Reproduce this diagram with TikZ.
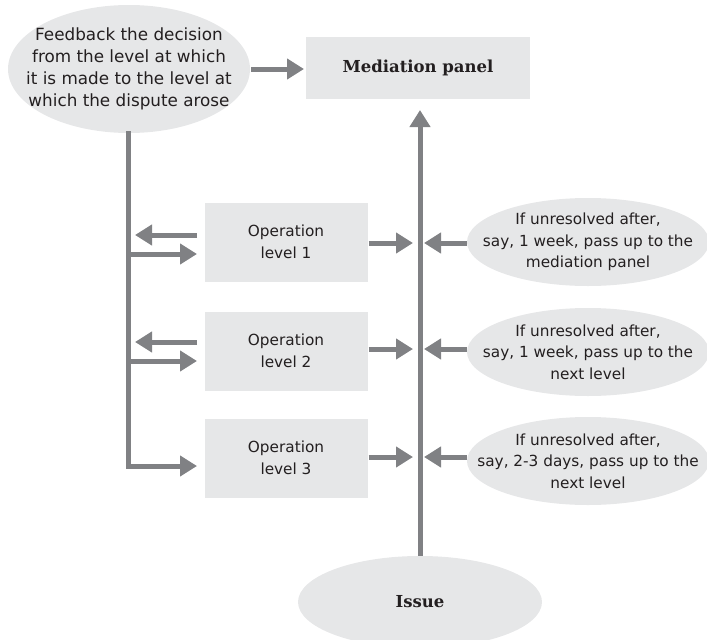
\documentclass[tikz,border=0pt]{standalone}
\usepackage{fontspec}
\setmainfont{DejaVu Sans}
\newfontfamily\headfont{DejaVu Serif}
\usetikzlibrary{arrows.meta,shapes.geometric}
\definecolor{panelgray}{HTML}{E6E7E8}
\definecolor{flowgray}{HTML}{808184}
\definecolor{inkdark}{HTML}{231F20}
\tikzset{
  x=1pt, y=-1pt,
  txt/.style={inner sep=0pt, text=inkdark, align=center,
    font=\fontsize{15.3}{21.5}\selectfont},
  headtxt/.style={txt, font=\headfont\bfseries\fontsize{16.5}{20}\selectfont},
  opbox/.style={txt, rectangle, fill=panelgray, minimum width=163, minimum height=79},
  bubble/.style={ellipse, inner sep=0pt, fill=panelgray, minimum width=242, minimum height=88},
  flow/.style={draw=flowgray, line width=5pt,
    -{Triangle[length=17pt, width=20pt]}}
}
\begin{document}
\begin{tikzpicture}
\useasboundingbox (0,0) rectangle (707,640);

% decision feedback and the panel at the top
\node[bubble, minimum width=242, minimum height=128,
  label={[txt, font=\fontsize{16.8}{22}\selectfont]center:{Feedback the decision\\from the level at which\\it is made to the level at\\which the dispute arose}}]
  (fb) at (129,69) {};
\node[opbox, headtxt, minimum width=224, minimum height=62] (med) at (418,68) {Mediation panel};
\coordinate (fbR) at (251,69);
\coordinate (medL) at (304,69);
\draw[flow] (fbR) -- (medL);

% operation levels
\node[opbox] (op1) at (286,242) {Operation\\level 1};
\node[opbox] (op2) at (286,351) {Operation\\level 2};
\node[opbox] (op3) at (286,458) {Operation\\level 3};

% escalation rules
\node[bubble, label={[txt]center:{If unresolved after,\\say, 1 week, pass up to the\\mediation panel}}]
  (r1) at (588,242) {};
\node[bubble, label={[txt]center:{If unresolved after,\\say, 1 week, pass up to the\\next level}}]
  (r2) at (588,352) {};
\node[bubble, label={[txt]center:{If unresolved after,\\say, 2-3 days, pass up to the\\next level}}]
  (r3) at (588,461) {};

% the issue at the bottom
\node[bubble, minimum width=244, minimum height=92,
  label={[headtxt]center:Issue}] (issue) at (420,602) {};

% main escalation trunk
\coordinate (trunkTop) at (420,110);
\draw[flow] (issue.north) -- (trunkTop);

% feedback trunk on the left
\coordinate (fbB) at (128,131);
\coordinate (in3) at (197,466);
\draw[flow] (fbB) |- (in3);

% arrows out of and back into level 1 and level 2
\foreach \n/\yy in {1/242, 2/349} {
  \coordinate (out\n) at (197,\yy-7);
  \coordinate (back\n) at (135,\yy-7);
  \coordinate (tap\n) at (128,\yy+12);
  \coordinate (into\n) at (197,\yy+12);
  \draw[flow] (out\n) -- (back\n);
  \draw[flow] (tap\n) -- (into\n);
}

% arrows from each level and each rule towards the trunk
\coordinate (t1a) at (413,243);
\coordinate (t2a) at (413,349);
\coordinate (t3a) at (413,457);
\coordinate (t1b) at (424,243);
\coordinate (t2b) at (424,349);
\coordinate (t3b) at (424,457);
\draw[flow] (op1.east |- t1a) ++(1,0) -- (t1a);
\draw[flow] (op2.east |- t2a) ++(1,0) -- (t2a);
\draw[flow] (op3.east |- t3a) ++(1,0) -- (t3a);
\draw[flow] (r1.west |- t1b) -- (t1b);
\draw[flow] (r2.west |- t2b) -- (t2b);
\draw[flow] (r3.west |- t3b) -- (t3b);
\end{tikzpicture}
\end{document}
